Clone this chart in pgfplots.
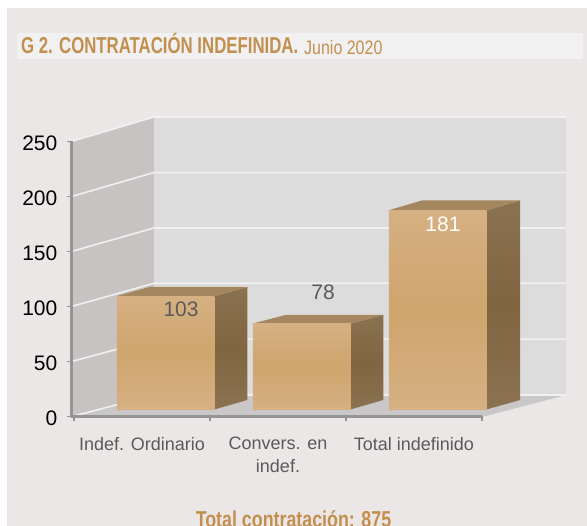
\documentclass[border=0pt]{standalone}
\usepackage{fontspec}
\setmainfont{Liberation Sans}
\usepackage{graphicx}
\usepackage{pgfplots}
\pgfplotsset{compat=1.18}
\definecolor{panel}{HTML}{ECE7E7}
\definecolor{strip}{HTML}{F2F1F1}
\definecolor{wallb}{HTML}{DCDCDC}
\definecolor{walls}{HTML}{C7C3C2}
\definecolor{floorc}{HTML}{C9C7C7}
\definecolor{gridc}{HTML}{F1F0F0}
\definecolor{axisc}{HTML}{949494}
\definecolor{barlt}{HTML}{D6B083}
\definecolor{barmd}{HTML}{CEA56D}
\definecolor{sidelt}{HTML}{8B7251}
\definecolor{sidemd}{HTML}{7F6540}
\definecolor{topc}{HTML}{A5875F}
\definecolor{gold}{HTML}{C38F4F}
\definecolor{labc}{HTML}{5A5A5A}
\pgfplotsset{
 wallfill/.style={draw=none,fill=#1,forget plot},
 gline/.style={draw=gridc,line width=1.6pt,forget plot},
 sideface/.style={draw=none,top color=sidelt,bottom color=sidelt,middle color=sidemd,yshift=7pt,forget plot},
 topface/.style={draw=none,fill=topc,yshift=7pt,forget plot},
 frontface/.style={ybar,bar shift=23.5pt,bar width=97.5pt,draw=none,top color=barlt,bottom color=barlt,middle color=barmd,yshift=7pt,forget plot},
}
\begin{document}
\begin{tikzpicture}
\useasboundingbox (0,0) rectangle (587pt,526pt);
\clip (0,0) rectangle (587pt,526pt);
\fill[panel] (7pt,0) rectangle (587pt,518pt);
\fill[strip] (17pt,467pt) rectangle (583pt,493pt);
\node[anchor=base west,inner sep=0,text=gold] at (21pt,472pt) {\scalebox{0.73}[1]{\fontsize{23}{23}\selectfont\bfseries G 2. CONTRATACIÓN INDEFINIDA.}};
\node[anchor=base west,inner sep=0,text=gold] at (304pt,471.7pt) {\scalebox{0.82}[1]{\fontsize{19.5}{19.5}\selectfont Junio 2020}};
\node[anchor=base,inner sep=0,text=gold] at (293.5pt,-2pt) {\scalebox{0.775}[1]{\fontsize{23}{23}\selectfont\bfseries Total contratación: 875}};
\begin{axis}[
 at={(71.5pt,109.5pt)},anchor=south west,
 scale only axis,width=410.5pt,height=275pt,
 xmin=-0.5184,xmax=2.5,ymin=0,ymax=250,
 clip=false,
 axis on top,
 axis lines*=left,
 every axis x line/.append style={color=axisc,line width=2.2pt,-},
 every axis y line/.append style={color=axisc,line width=2.2pt,-},
 axis line style={color=axisc,draw=axisc,line width=2.2pt,-},
 ytick={0,50,100,150,200,250},
 xtick={0,1,2},
 minor xtick={-0.5,0.5,1.5,2.5},
 xticklabels={Indef. Ordinario,{Convers. en\\indef.},Total indefinido},
 tick align=outside,
 major y tick style={color=axisc,draw=axisc,line width=1.4pt},
 minor x tick style={color=axisc,draw=axisc,line width=1.4pt},
 major x tick style={draw=none},
 major tick length=4.5pt,minor tick length=4.5pt,
 /pgf/number format/assume math mode=true,
 yticklabel style={font=\fontsize{21}{21}\selectfont,text=black,inner sep=0pt,xshift=-9.5pt,yshift=-2pt},
 xticklabel style={font=\fontsize{18}{23}\selectfont,text=labc,align=center,anchor=north,yshift=-16pt,inner sep=0pt},
]
% floor and walls
\addplot[wallfill=floorc] coordinates {(-0.5184,0)(0.0882,19.5)(3.1176,19.5)(2.5147,0)} --cycle;
\addplot[wallfill=walls] coordinates {(-0.5184,0)(0.0882,19.5)(0.0882,272.3)(-0.5184,250)} --cycle;
\addplot[wallfill=wallb] coordinates {(0.0882,19.5)(3.1176,19.5)(3.1176,272.3)(0.0882,272.3)} --cycle;
% grid lines
\addplot[gline] coordinates {(-0.5,0.5)(0.0882,19.5)(3.1176,19.5)};
\addplot[gline] coordinates {(-0.5184,50)(0.0882,70.2)(3.1176,70.2)};
\addplot[gline] coordinates {(-0.5184,100)(0.0882,121.1)(3.1176,121.1)};
\addplot[gline] coordinates {(-0.5184,150)(0.0882,171.4)(3.1176,171.4)};
\addplot[gline] coordinates {(-0.5184,200)(0.0882,221.8)(3.1176,221.8)};
\addplot[gline] coordinates {(-0.5184,250)(0.0882,272.3)(3.1176,272.3)};
% bar depth faces
\addplot[sideface] coordinates {(0.531,0)(0.7739,8.6)(0.7739,111.4)(0.531,103)} --cycle;
\addplot[topface] coordinates {(-0.1894,103)(0.0569,111.4)(0.7739,111.4)(0.531,103)} --cycle;
\addplot[sideface] coordinates {(1.531,0)(1.7739,8.6)(1.7739,86)(1.531,78)} --cycle;
\addplot[topface] coordinates {(0.8106,78)(1.0569,86)(1.7739,86)(1.531,78)} --cycle;
\addplot[sideface] coordinates {(2.531,0)(2.78,8.6)(2.78,190)(2.531,181)} --cycle;
\addplot[topface] coordinates {(1.8106,181)(2.0569,190)(2.78,190)(2.531,181)} --cycle;
% bar fronts
\addplot[frontface] coordinates {(0,103)};
\addplot[frontface] coordinates {(1,78)};
\addplot[frontface] coordinates {(2,181)};
% value labels
\node[text=labc,font=\fontsize{21}{21}\selectfont] at (axis cs:0.287,97.7) {103};
\node[text=labc,font=\fontsize{21}{21}\selectfont] at (axis cs:1.331,113.2) {78};
\node[text=white,font=\fontsize{21}{21}\selectfont] at (axis cs:2.213,175) {181};
\end{axis}
\end{tikzpicture}
\end{document}
